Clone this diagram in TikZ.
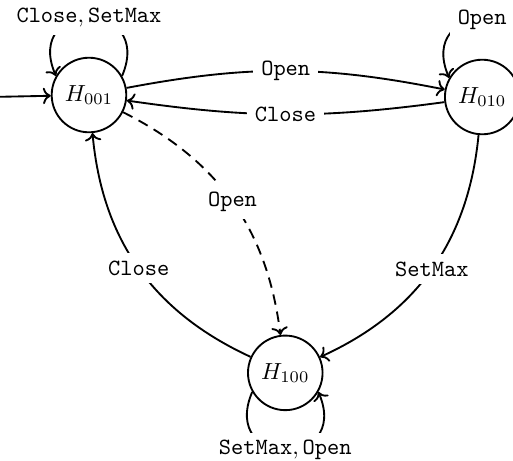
\documentclass[tikz,border=0pt]{standalone}
\usepackage{amsmath}
\usetikzlibrary{arrows.meta}

\tikzset{
  hstate/.style={draw, circle, minimum size=32pt, inner sep=0pt},
  lbl/.style={fill=white},
}

\begin{document}
\begin{tikzpicture}[>={To}, thick]
    \useasboundingbox (-1.342,1.433) rectangle (6.394,-5.519);

    % States
    \node[hstate] (H001) at (0,0) {$H_{001}$};
    \node[hstate] (H010) at (5.93,-0.03) {$H_{010}$};
    \node[hstate] (H100) at (2.96,-4.19) {$H_{100}$};

    % Start
    \coordinate (start) at (-1.5,-0.03);
    \draw[->] (start) -- (H001);

    % Transitions
    \draw[->] (H001) to[bend left=11] node[lbl] {\texttt{Open}} (H010);
    \draw[->] (H010) to[bend left=8] node[lbl] {\texttt{Close}} (H001);
    \draw[->, dash pattern=on 4.5pt off 3pt] (H001) to[bend left=28] node[lbl] {\texttt{Open}} (H100);
    \draw[->] (H010) to[bend left=30] node[lbl] {\texttt{SetMax}} (H100);
    \draw[->] (H100) to[bend left=30] node[lbl] {\texttt{Close}} (H001);

    % Self loops
    \draw[->] (H001.30) .. controls +(67:1.27) and +(113:1.27) .. node[lbl] {$\texttt{Close}, \texttt{SetMax}$} (H001.150);
    \draw[->] (H010.30) .. controls +(67:1.27) and +(113:1.27) .. node[lbl] {\texttt{Open}} (H010.150);
    \draw[->] (H100.210) .. controls +(247:1.27) and +(293:1.27) .. node[lbl] {$\texttt{SetMax}, \texttt{Open}$} (H100.330);
\end{tikzpicture}
\end{document}
